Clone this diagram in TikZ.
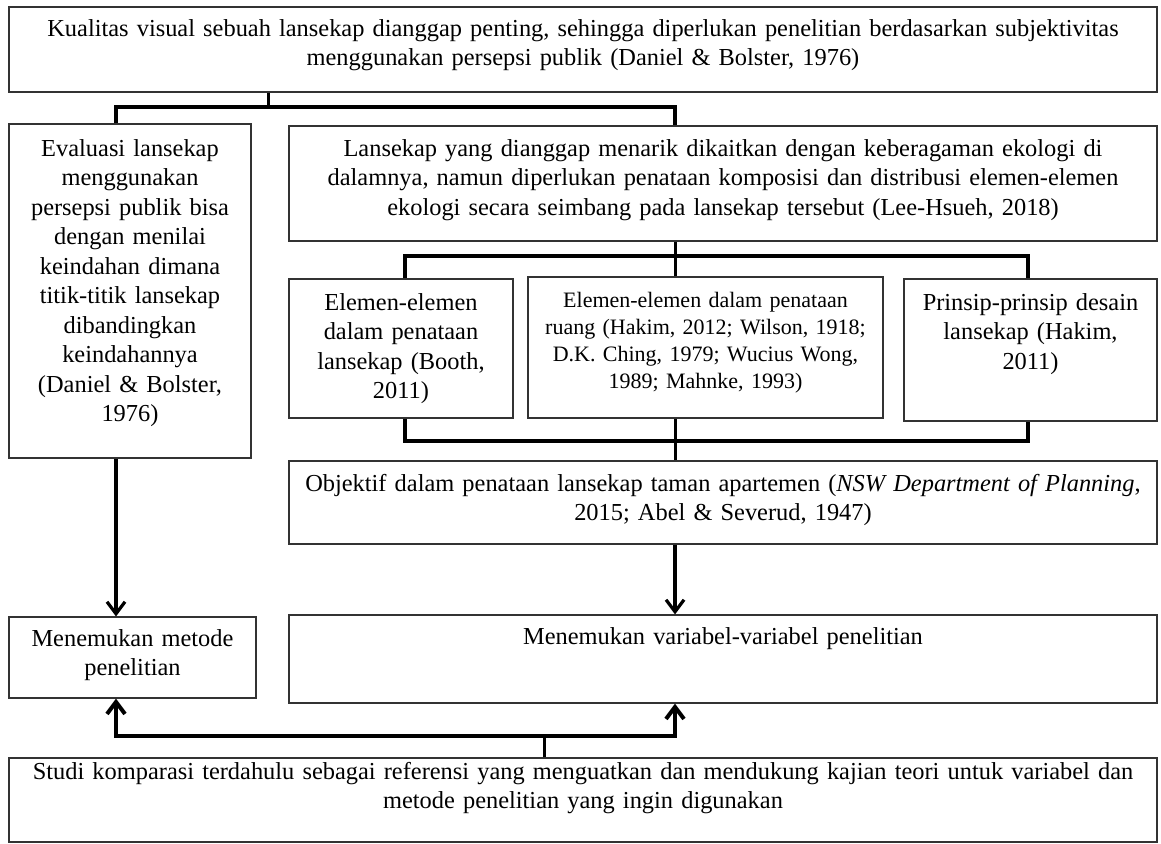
\documentclass[tikz,border=0pt]{standalone}
\usepackage{fontspec}
\setmainfont{Liberation Serif}
\usetikzlibrary{arrows.meta,positioning,calc}

\begin{document}
\begin{tikzpicture}[x=0.5pt,y=-0.5pt,>={Straight Barb[length=6pt,width=9pt]},
  box/.style={draw=black!80,line width=0.6pt,fill=white,inner sep=0pt,anchor=base,align=center,font=\fontsize{12.2}{14.75}\selectfont},
  stub/.style={line width=1.5pt},
  bus/.style={line width=2pt},
  arr/.style={->,line width=1.6pt}]
\useasboundingbox[fill=white] (0,0) rectangle (1161,843);

% boxes
\node[box,text width=574pt,text height=14.5pt,text depth=28pt] (kual) at (583,36) {Kualitas visual sebuah lansekap dianggap penting, sehingga diperlukan penelitian berdasarkan subjektivitas\\menggunakan persepsi publik (Daniel \& Bolster, 1976)};
\node[box,text width=121pt,text height=16pt,text depth=151pt] (eval) at (130,156) {Evaluasi lansekap\\menggunakan\\persepsi publik bisa\\dengan menilai\\keindahan dimana\\titik-titik lansekap\\dibandingkan\\keindahannya\\(Daniel \& Bolster,\\1976)};
\node[box,text width=434pt,text height=15pt,text depth=42.5pt] (lans) at (723,156) {Lansekap yang dianggap menarik dikaitkan dengan keberagaman ekologi di\\dalamnya, namun diperlukan penataan komposisi dan distribusi elemen-elemen\\ekologi secara seimbang pada lansekap tersebut (Lee-Hsueh, 2018)};
\node[box,text width=112pt,text height=15.5pt,text depth=54pt] (elA) at (401,310) {Elemen-elemen\\dalam penataan\\lansekap (Booth,\\2011)};
\node[box,text width=177.5pt,text height=15pt,text depth=55.5pt,font=\fontsize{11}{13.5}\selectfont] (elB) at (705.5,307) {Elemen-elemen dalam penataan\\ruang (Hakim, 2012; Wilson, 1918;\\D.K. Ching, 1979; Wucius Wong,\\1989; Mahnke, 1993)};
\node[box,text width=126.5pt,text height=15.5pt,text depth=55.5pt] (elC) at (1030.5,310) {Prinsip-prinsip desain\\lansekap (Hakim,\\2011)};
\node[box,text width=434pt,text height=15pt,text depth=26.5pt] (obj) at (723,491) {Objektif dalam penataan lansekap taman apartemen (\textit{NSW Department of Planning},\\2015; Abel \& Severud, 1947)};
\node[box,text width=123.5pt,text height=14.5pt,text depth=26pt] (metode) at (132.5,646) {Menemukan metode\\penelitian};
\node[box,text width=434pt,text height=14.5pt,text depth=29.5pt] (var) at (723,644) {Menemukan variabel-variabel penelitian};
\node[box,text width=574pt,text height=10.5pt,text depth=31.5pt] (studi) at (583,779) {Studi komparasi terdahulu sebagai referensi yang menguatkan dan mendukung kajian teori untuk variabel dan\\metode penelitian yang ingin digunakan};

% bus points
\coordinate (t1) at (268,107);
\coordinate (b1) at (116,107);
\coordinate (b2) at (675,107);
\coordinate (m1) at (405,256);
\coordinate (mc) at (675,256);
\coordinate (m2) at (1028,256);
\coordinate (n1) at (405,441);
\coordinate (nc) at (675,441);
\coordinate (n2) at (1028,441);
\coordinate (s1) at (116,736);
\coordinate (sc) at (544,736);
\coordinate (s2) at (675,736);

% connectors
\draw[stub] (kual.south -| t1) -- (t1);
\draw[bus] (eval.north -| b1) |- (b2) -- (lans.north -| b2);
\draw[stub] (lans.south -| mc) -- (mc);
\draw[bus] (elA.north -| m1) |- (m2) -- (elC.north -| m2);
\draw[stub] (mc) -- (elB.north -| mc);
\draw[bus] (elA.south -| n1) |- (n2) -- (elC.south -| n2);
\draw[stub] (elB.south -| nc) -- (nc) -- (obj.north -| nc);
\draw[arr] (eval.south -| b1) -- (metode.north -| b1);
\draw[arr] (obj.south -| nc) -- (var.north -| nc);
\draw[stub] (studi.north -| sc) -- (sc);
\draw[bus,<->] (metode.south -| s1) |- (s2) -- (var.south -| s2);
\end{tikzpicture}
\end{document}
